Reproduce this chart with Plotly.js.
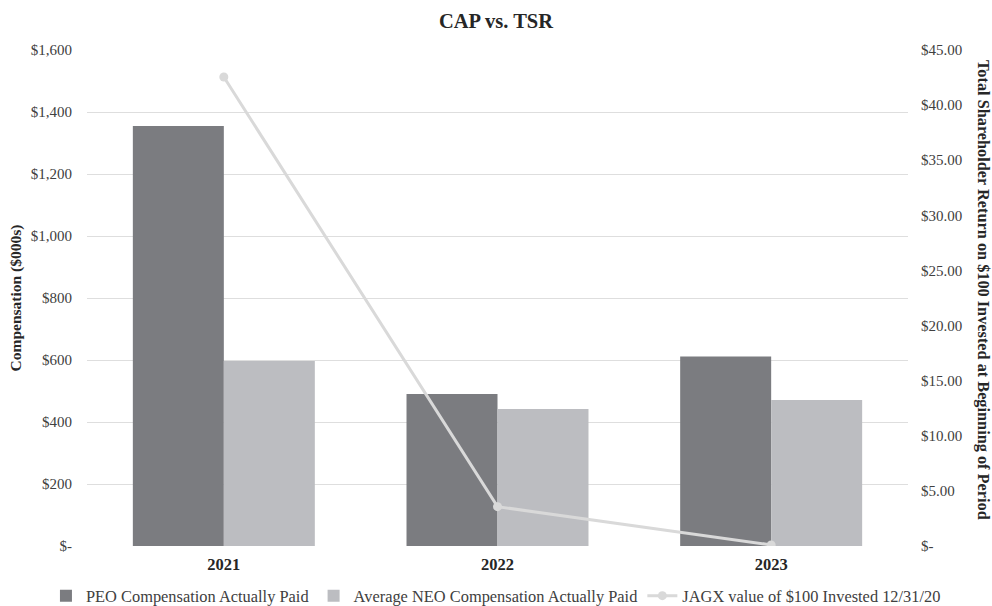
<!DOCTYPE html>
<html>
<head>
<meta charset="utf-8">
<script src="https://cdn.plot.ly/plotly-3.0.1.min.js"></script>
<style>html,body{margin:0;padding:0;background:#fff;}#chart{width:992px;height:606px;}</style>
</head>
<body>
<div id="chart"></div>
<script>
const years = ["2021", "2022", "2023"];
const peoCap = [1355, 490, 611];
const neoCap = [597, 442, 471];
const tsr = [42.55, 3.57, 0.1];
const leftTickVals = [0, 200, 400, 600, 800, 1000, 1200, 1400, 1600];
const leftTickText = ["$-", "$200", "$400", "$600", "$800", "$1,000", "$1,200", "$1,400", "$1,600"];
const rightTickVals = [0, 5, 10, 15, 20, 25, 30, 35, 40, 45];
const rightTickText = ["$-", "$5.00", "$10.00", "$15.00", "$20.00", "$25.00", "$30.00", "$35.00", "$40.00", "$45.00"];

const font = "Liberation Serif, Times New Roman, serif";
const traces = [
  {type: "bar", name: "PEO Compensation Actually Paid", x: years, y: peoCap,
   marker: {color: "#7b7c80"}, hoverinfo: "skip"},
  {type: "bar", name: "Average NEO Compensation Actually Paid", x: years, y: neoCap,
   marker: {color: "#bcbdc1"}, hoverinfo: "skip"},
  {type: "scatter", mode: "lines+markers", name: "JAGX value of $100 Invested 12/31/20",
   x: years, y: tsr, yaxis: "y2",
   line: {color: "#d9d9d9", width: 3}, marker: {color: "#d9d9d9", size: 9}, hoverinfo: "skip"}
];
const layout = {
  width: 992, height: 606,
  margin: {l: 87, r: 84, t: 50, b: 60, autoexpand: false},
  paper_bgcolor: "#fff", plot_bgcolor: "#fff",
  font: {family: font, color: "#262626", size: 14},
  title: {text: "<b>CAP vs. TSR</b>", x: 0.5, xanchor: "center", y: 0.965, yanchor: "middle",
          font: {family: font, size: 20.5, color: "#262626"}},
  barmode: "group", bargap: 0.335, bargroupgap: 0,
  showlegend: true,
  legend: {orientation: "h", x: -0.05, xanchor: "left", y: -0.1008, yanchor: "middle",
           itemwidth: 30, itemgap: 5, font: {family: font, size: 16.4, color: "#404040"}, traceorder: "normal"},
  xaxis: {type: "category", showgrid: false, zeroline: false, showline: false, ticks: "", automargin: false,
          tickfont: {family: font, size: 16.5, color: "#262626", weight: "bold"}, ticklabelstandoff: 6},
  yaxis: {range: [0, 1600], tickvals: leftTickVals, ticktext: leftTickText, automargin: false,
          showgrid: true, gridcolor: "#dedede", gridwidth: 1, zeroline: false, showline: false,
          ticks: "", ticklabelstandoff: 14,
          tickfont: {family: font, size: 15, color: "#404040"},
          title: {text: "<b>Compensation ($000s)</b>", font: {family: font, size: 15.5, color: "#262626"}, standoff: 5}},
  yaxis2: {range: [0, 45], overlaying: "y", side: "right", tickvals: rightTickVals, ticktext: rightTickText,
           showgrid: false, zeroline: false, showline: false, ticks: "", ticklabelstandoff: 12, automargin: false,
           tickfont: {family: font, size: 15, color: "#404040"}},
  annotations: [{text: "<b>Total Shareholder Return on $100 Invested at Beginning of Period</b>",
                 xref: "paper", yref: "paper", x: 1, xshift: 76, y: 0.5, yshift: 8, textangle: 90,
                 showarrow: false, xanchor: "center", yanchor: "middle",
                 font: {family: font, size: 16.3, color: "#262626"}}]
};
Plotly.newPlot("chart", traces, layout, {displayModeBar: false, staticPlot: true});
</script>
</body>
</html>
